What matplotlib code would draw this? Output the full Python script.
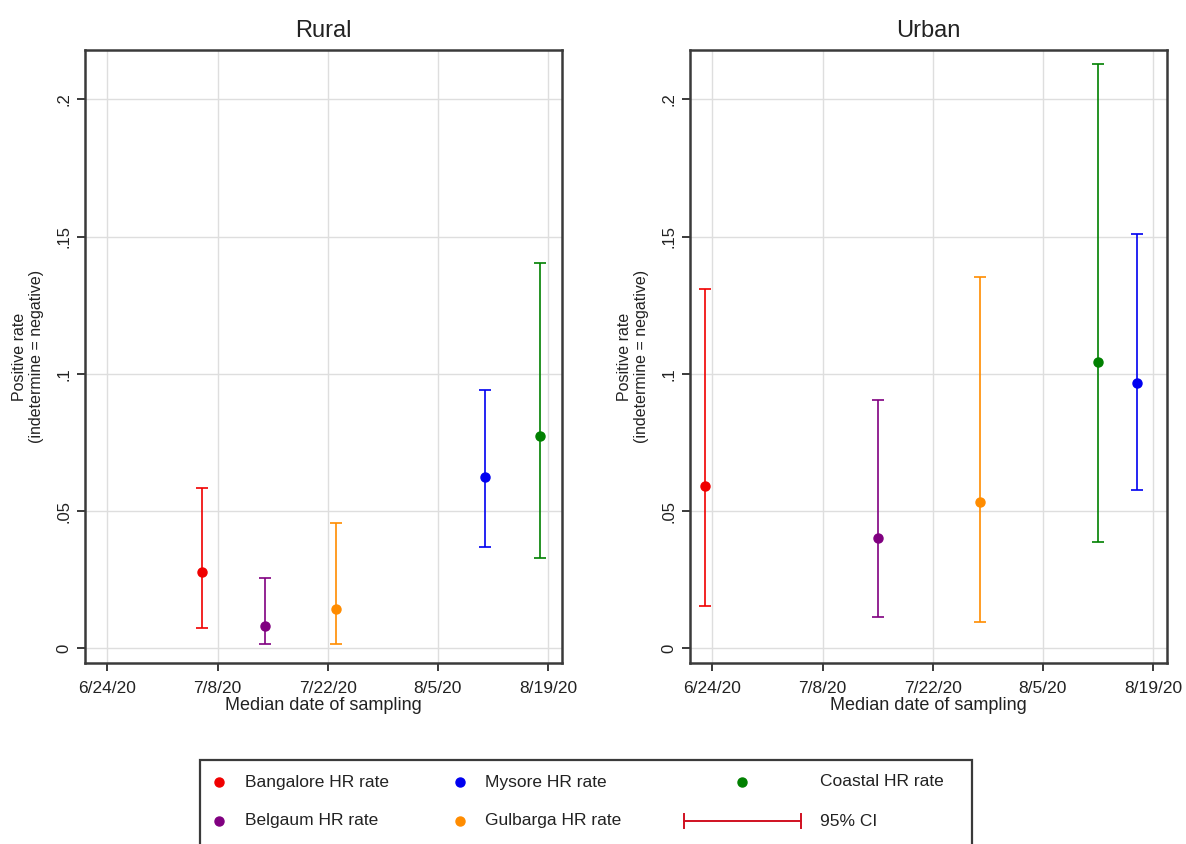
import matplotlib
matplotlib.use("Agg")
import matplotlib.pyplot as plt
import matplotlib.dates as mdates
from matplotlib.patches import Rectangle
from matplotlib.lines import Line2D
import pandas as pd

plt.rcParams['font.family'] = ['Liberation Sans', 'DejaVu Sans']

# ---- data ----
regions = ["Bangalore", "Belgaum", "Gulbarga", "Mysore", "Coastal"]
colors = ["#f00000", "#800080", "#ff8c00", "#0000f0", "#008000"]

rural_dates = ["2020-07-06", "2020-07-14", "2020-07-23", "2020-08-11", "2020-08-18"]
rural_rate = [0.0280, 0.0082, 0.0143, 0.0626, 0.0775]
rural_lo = [0.0074, 0.0016, 0.0016, 0.0370, 0.0330]
rural_hi = [0.0584, 0.0258, 0.0456, 0.0941, 0.1404]

urban_dates = ["2020-06-23", "2020-07-15", "2020-07-28", "2020-08-17", "2020-08-12"]
urban_rate = [0.0591, 0.0402, 0.0534, 0.0968, 0.1045]
urban_lo = [0.0154, 0.0113, 0.0095, 0.0578, 0.0389]
urban_hi = [0.1311, 0.0906, 0.1354, 0.1510, 0.2130]

xtick_dates = ["2020-06-24", "2020-07-08", "2020-07-22", "2020-08-05", "2020-08-19"]
xtick_labels = ["6/24/20", "7/8/20", "7/22/20", "8/5/20", "8/19/20"]
yticks = [0, 0.05, 0.10, 0.15, 0.20]
ytick_labels = ["0", ".05", ".1", ".15", ".2"]

legend_labels = ["Bangalore HR rate", "Belgaum HR rate", "Gulbarga HR rate",
                 "Mysore HR rate", "Coastal HR rate"]

fig = plt.figure(figsize=(11.86, 8.44), dpi=100)
fig.patch.set_facecolor("white")

ax_l = fig.add_axes([0.0717, 0.2145, 0.4022, 0.7263])
ax_r = fig.add_axes([0.5818, 0.2145, 0.4022, 0.7263])

base = mdates.date2num(pd.Timestamp("2020-06-24"))
xt = [mdates.date2num(pd.Timestamp(d)) for d in xtick_dates]

def draw(ax, dates, rate, lo, hi, title):
    for i in range(len(regions)):
        x = mdates.date2num(pd.Timestamp(dates[i]))
        ax.errorbar([x], [rate[i]], yerr=[[rate[i] - lo[i]], [hi[i] - rate[i]]],
                    fmt='o', color=colors[i], ecolor=colors[i], elinewidth=1.2,
                    capsize=4.5, capthick=1.2, markersize=6.5, zorder=3)
    ax.set_xlim(base - 2.85, base + 57.8)
    ax.set_ylim(-0.0053, 0.218)
    ax.set_xticks(xt)
    ax.set_xticklabels(xtick_labels, fontsize=12.5, color="#222222")
    ax.set_yticks(yticks)
    ax.set_yticklabels(ytick_labels, fontsize=12, rotation=90, va="center",
                       color="#222222")
    ax.grid(True, color="#dedede", linewidth=1.0, zorder=0)
    ax.set_axisbelow(True)
    for s in ax.spines.values():
        s.set_color("#3a3a3a")
        s.set_linewidth(1.8)
    ax.tick_params(axis='x', length=6, width=1.4, color="#3a3a3a", pad=7)
    ax.tick_params(axis='y', length=6, width=1.4, color="#3a3a3a", pad=4)
    ax.set_xlabel("Median date of sampling", fontsize=13, color="#222222",
                  labelpad=1)
    ax.set_ylabel("Positive rate\n(indetermine = negative)", fontsize=11.5,
                  color="#222222", labelpad=9, linespacing=1.15)
    ax.set_title(title, fontsize=17, color="#222222", pad=9)

draw(ax_l, rural_dates, rural_rate, rural_lo, rural_hi, "Rural")
draw(ax_r, urban_dates, urban_rate, urban_lo, urban_hi, "Urban")

# ---- legend (figure level) ----
W, H = 1186.0, 844.0
def fx(px):
    return px / W
def fy(py):
    return 1 - py / H

fig.patches.append(Rectangle((fx(200), fy(850)), fx(972) - fx(200), fy(760) - fy(850),
                             transform=fig.transFigure, fill=False,
                             edgecolor="#3a3a3a", linewidth=1.6))

entries = [
    (legend_labels[0], colors[0], 219, 245, 782),
    (legend_labels[1], colors[1], 219, 245, 821),
    (legend_labels[3], colors[3], 460, 485, 782),
    (legend_labels[2], colors[2], 460, 485, 821),
    (legend_labels[4], colors[4], 742, 820, 782),
]
for lab, c, mx, tx, yy in entries:
    fig.add_artist(Line2D([fx(mx)], [fy(yy)], marker='o', color=c, markersize=6.5,
                          linestyle='none', transform=fig.transFigure))
    fig.text(fx(tx), fy(yy), lab, fontsize=12.5, color="#222222", va="center",
             ha="left")

# CI key
fig.add_artist(Line2D([fx(684), fx(801)], [fy(821), fy(821)], color="#d01020",
                      linewidth=1.4, transform=fig.transFigure))
for xx in (684, 801):
    fig.add_artist(Line2D([fx(xx), fx(xx)], [fy(814), fy(828)], color="#d01020",
                          linewidth=1.4, transform=fig.transFigure))
fig.text(fx(820), fy(821), "95% CI", fontsize=12.5, color="#222222", va="center",
         ha="left")

fig.savefig("out.png", dpi=100, facecolor="white")
